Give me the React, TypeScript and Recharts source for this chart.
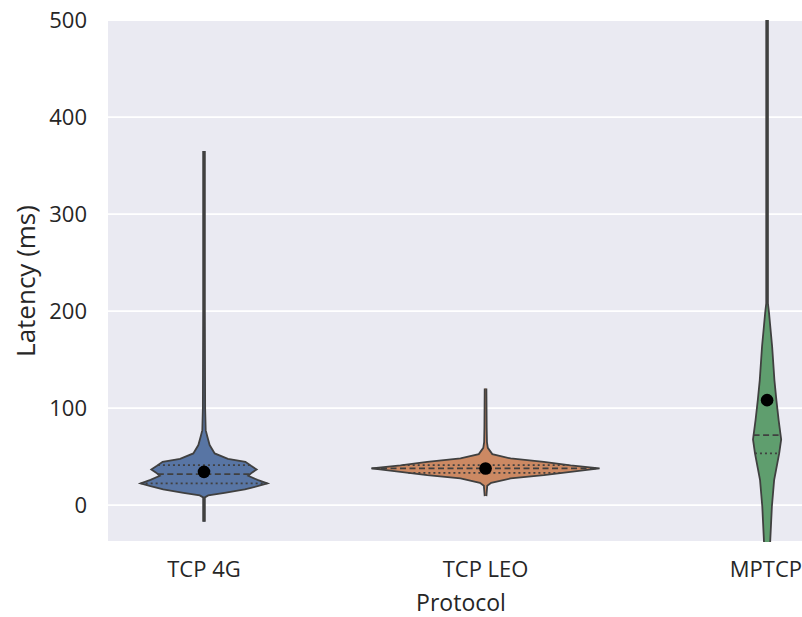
import {
  Area,
  CartesianGrid,
  ComposedChart,
  ReferenceLine,
  Scatter,
  XAxis,
  YAxis,
} from "recharts";

const protocols = ["TCP 4G", "TCP LEO", "MPTCP"];
const fills = ["#5875a4", "#cc8963", "#5f9e6e"];

// violin outlines: latency (ms) and half width (category units)
const lat4g = [-17, 8, 10, 12.7, 16.2, 19.5, 22.4, 26, 30.2, 33.5, 36.7, 40.5, 44.6, 47.7, 53.3, 61.9, 70.4, 77.3, 100, 200, 365];
const half4g = [0.003, 0.003, 0.015, 0.073, 0.145, 0.19, 0.225, 0.19, 0.157, 0.17, 0.187, 0.167, 0.147, 0.085, 0.038, 0.02, 0.012, 0.006, 0.004, 0.003, 0.003];

const latLeo = [9.3, 20, 23, 27.5, 30.9, 34.3, 37.8, 40.9, 44.6, 48.1, 52.6, 59, 65, 80, 120.3];
const halfLeo = [0.003, 0.006, 0.02, 0.089, 0.207, 0.302, 0.405, 0.302, 0.207, 0.089, 0.024, 0.008, 0.005, 0.004, 0.003];

const latMp = [-50, -37.8, -1.7, 25.8, 53.3, 67.7, 87.6, 108.2, 128.9, 163.2, 197.6, 208, 300, 520];
const halfMp = [0.009, 0.011, 0.017, 0.025, 0.043, 0.05, 0.041, 0.033, 0.026, 0.018, 0.007, 0.003, 0.003, 0.003];

// quartile lines: q1 (dotted), median (dashed), q3 (dotted)
const quart4g = [22.4, 32, 41.2];
const quartLeo = [33.3, 37.8, 41.2];
const quartMp = [53.3, 72.2, null];

const means = [34.3, 37.8, 108.2];
const yTicks = [0, 100, 200, 300, 400, 500];

const profiles = [
  { lat: lat4g, half: half4g, quart: quart4g },
  { lat: latLeo, half: halfLeo, quart: quartLeo },
  { lat: latMp, half: halfMp, quart: quartMp },
];

const allLat = Array.from(new Set(profiles.flatMap((p) => p.lat))).sort((a, b) => a - b);
const rows = allLat.map((lat) => {
  const row: Record<string, unknown> = { lat };
  profiles.forEach((p, i) => {
    const k = p.lat.indexOf(lat);
    row[`v${i}`] = k >= 0 ? [i - p.half[k], i + p.half[k]] : [null, null];
  });
  return row;
});

function halfAt(lat: number[], half: number[], y: number) {
  for (let k = 1; k < lat.length; k++) {
    if (y <= lat[k]) {
      const t = (y - lat[k - 1]) / (lat[k] - lat[k - 1]);
      return half[k - 1] + t * (half[k] - half[k - 1]);
    }
  }
  return half[half.length - 1];
}

const meanPoints = means.map((m, i) => ({ pos: i, lat: m }));

const text = "#262626";
const line = "#404040";

export default function App() {
  return (
    <div style={{ position: "absolute", left: 0, top: 0, fontFamily: "Open Sans" }}>
      <ComposedChart
        width={802}
        height={617}
        layout="vertical"
        data={rows}
        margin={{ top: 20, right: 0, bottom: 0, left: 0 }}
      >
        <CartesianGrid fill="#eaeaf2" stroke="#ffffff" strokeWidth={1.8} vertical={false} />
        <XAxis
          type="number"
          domain={[-0.341, 2.124]}
          allowDataOverflow
          ticks={[0, 1, 2]}
          tickFormatter={(v: number) => protocols[v] ?? ""}
          height={75}
          axisLine={false}
          tickLine={false}
          tickSize={0}
          tickMargin={19}
          tick={{ fontSize: 22, fill: text, fontFamily: "Open Sans" }}
          label={{ value: "Protocol", position: "insideBottom", offset: 6, dx: 6, fontSize: 23, fill: text, fontFamily: "Open Sans" }}
        />
        <YAxis
          type="number"
          dataKey="lat"
          domain={[-38, 500]}
          allowDataOverflow
          reversed
          ticks={yTicks}
          width={108}
          axisLine={false}
          tickLine={false}
          tickSize={0}
          tickMargin={21}
          tick={{ fontSize: 22, fill: text, fontFamily: "Open Sans" }}
          label={{
            value: "Latency (ms)",
            angle: -90,
            position: "insideLeft",
            offset: 26,
            style: { textAnchor: "middle" },
            fontSize: 26,
            fill: text,
            fontFamily: "Open Sans",
          }}
        />
        {profiles.map((_, i) => (
          <Area
            key={i}
            type="linear"
            dataKey={`v${i}`}
            fill={fills[i]}
            fillOpacity={1}
            stroke={line}
            strokeWidth={1.8}
            connectNulls
            dot={false}
            activeDot={false}
            isAnimationActive={false}
          />
        ))}
        {profiles.flatMap((p, i) =>
          p.quart.map((q, j) => {
            if (q == null) return null;
            const w = halfAt(p.lat, p.half, q);
            return (
              <ReferenceLine
                key={`q${i}-${j}`}
                segment={[
                  { x: i - w, y: q },
                  { x: i + w, y: q },
                ]}
                stroke={line}
                strokeWidth={1.8}
                strokeDasharray={j === 1 ? "6 3.5" : "2 3"}
              />
            );
          })
        )}
        <Scatter
          data={meanPoints}
          dataKey="pos"
          isAnimationActive={false}
          shape={(props: any) => <circle cx={props.cx} cy={props.cy} r={6.3} fill="#000000" />}
        />
      </ComposedChart>
    </div>
  );
}
